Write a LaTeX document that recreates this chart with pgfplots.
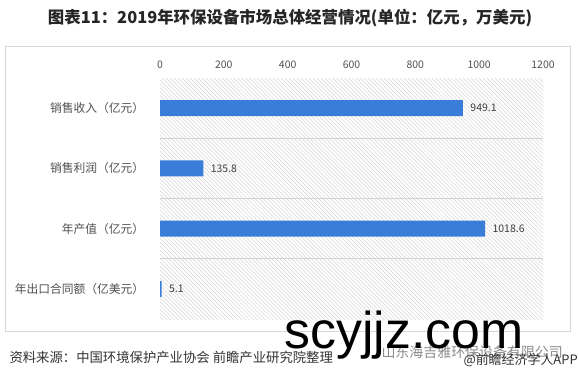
\documentclass[border=0pt]{standalone}
\usepackage{fontspec}
\setmainfont{Noto Sans CJK SC}
\newfontfamily\wmfont{Liberation Sans}
\usepackage{pgfplots}
\pgfplotsset{compat=1.18}
\usetikzlibrary{patterns.meta}
\definecolor{barblue}{RGB}{58,125,217}
\definecolor{labgray}{RGB}{80,80,80}
\definecolor{sepgray}{RGB}{210,210,210}
\definecolor{framegray}{RGB}{215,215,215}
\begin{document}
\begin{tikzpicture}[x=1bp,y=1bp]
\path[use as bounding box] (0,0) rectangle (579,379);
\fill[white] (0,0) rectangle (579,379);
\draw[color=framegray, line width=0.8bp] (5,333) rectangle (570,48);
\node[font=\fontsize{16.5}{18}\selectfont\bfseries, text=black!85] at (290,361)
  {图表11：2019年环保设备市场总体经营情况(单位：亿元，万美元)};
\begin{axis}[
  at={(160bp,60bp)}, anchor=south west,
  scale only axis, width=383bp, height=241bp,
  xmin=0, xmax=1200, ymin=-0.5, ymax=3.5,
  y dir=reverse,
  xbar, bar width=16bp,
  axis line style={draw=none},
  tick style={draw=none},
  axis background/.style={pattern={Lines[angle=-45,distance=2.8bp,line width=0.5bp]}, pattern color=black!17},
  xtick={0,200,...,1200},
  xticklabel pos=upper,
  /pgf/number format/assume math mode=true,
  /pgf/number format/1000 sep={},
  xticklabel style={font=\fontsize{10.5}{12}\selectfont, text=labgray, yshift=6bp},
  ytick={0,1,2,3},
  yticklabels={销售收入（亿元）,销售利润（亿元）,年产值（亿元）,年出口合同额（亿美元）},
  yticklabel style={font=\fontsize{11.8}{13}\selectfont, text=labgray, xshift=-8bp},
  extra y ticks={0.5,1.5,2.5},
  extra y tick labels={},
  extra y tick style={grid=major, major grid style={color=sepgray, line width=0.7bp}},
  point meta=explicit symbolic,
  nodes near coords,
  nodes near coords style={font=\fontsize{10.5}{12}\selectfont, text=black!75, anchor=west, xshift=4bp},
  clip=false,
]
\addplot[fill=barblue, draw=none] coordinates {
  (949.1,0) [949.1]
  (135.8,1) [135.8]
  (1018.6,2) [1018.6]
  (5.1,3) [5.1]
};
\end{axis}
\node[anchor=west, font=\fontsize{13.4}{15}\selectfont, text=black!80] at (6,22)
  {资料来源：中国环境保护产业协会 前瞻产业研究院整理};
\node[anchor=west, font=\fontsize{14}{16}\selectfont, text=black!45] at (378,27)
  {山东海吉雅环保设备有限公司};
\node[anchor=base west, font=\wmfont\fontsize{52}{58}\selectfont, text=black] at (281,31) {scyjjz.com};
\node[anchor=west, font=\fontsize{13}{15}\selectfont, text=black!80] at (460,19)
  {@前瞻经济学人APP};
\end{tikzpicture}
\end{document}
